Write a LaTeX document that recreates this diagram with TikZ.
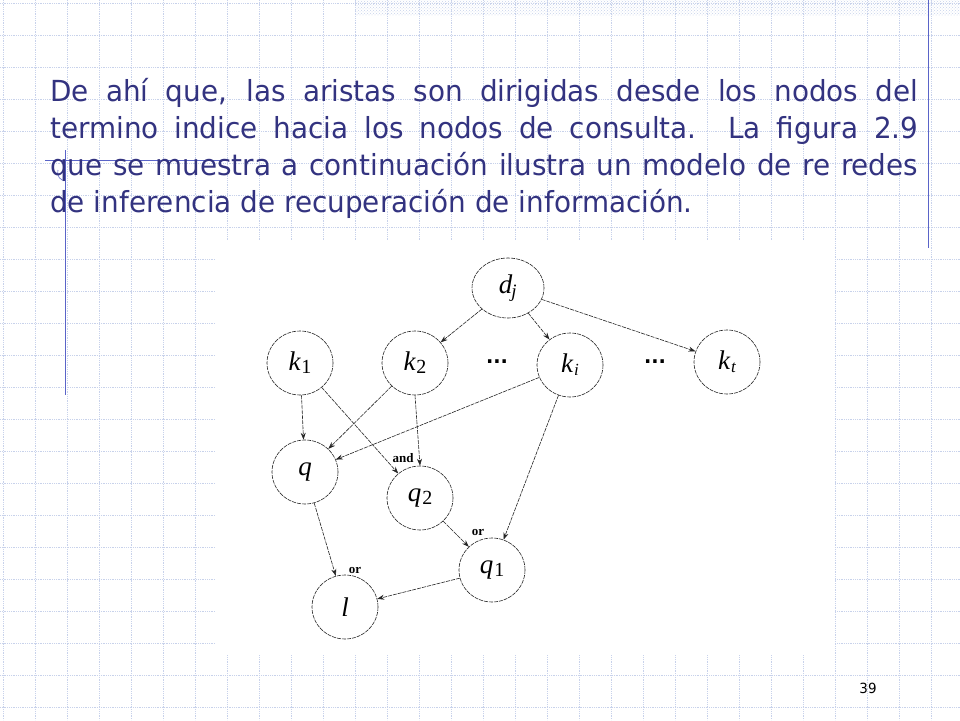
\documentclass[tikz,border=0pt]{standalone}
\usepackage{fontspec}
\setmainfont{DejaVu Sans}[FakeStretch=0.96]
\newfontfamily\serifm{Liberation Serif}
\usetikzlibrary{patterns,arrows.meta,shapes.geometric}
\definecolor{navy}{RGB}{51,51,128}
\definecolor{gridc}{RGB}{200,210,235}
\definecolor{linec}{RGB}{90,100,200}
\tikzset{
  nd/.style={draw=black!85, line width=0.6pt, dash pattern=on 4pt off 1pt, ellipse, minimum width=66pt, minimum height=64pt, inner sep=0pt, font=\serifm\itshape\fontsize{27}{27}\selectfont},
  ar/.style={draw=black!85, line width=0.6pt, dash pattern=on 4pt off 1pt, -{Stealth[length=7pt,width=5pt]}},
  lb/.style={font=\serifm\bfseries\fontsize{13}{13}\selectfont},
  txt/.style={anchor=base west, inner sep=0pt, text=navy, font=\fontsize{29}{29}\selectfont}
}
\begin{document}
\begin{tikzpicture}[x=1pt,y=-1pt]
\useasboundingbox (0,0) rectangle (960,720);
\fill[white] (0,0) rectangle (960,720);
\foreach \i in {0,...,30} {\draw[gridc, densely dotted, line width=0.8pt] (\i*32+3,0) -- (\i*32+3,720);}
\foreach \j in {0,...,23} {\draw[gridc, densely dotted, line width=0.8pt] (0,\j*32+3) -- (960,\j*32+3);}
\fill[white] (215,240) rectangle (835,655);
\fill[pattern=crosshatch dots, pattern color=gridc] (355,0) rectangle (960,15);
\draw[linec, line width=0.8pt] (928,0) -- (928,248);
\draw[linec, line width=0.8pt] (65,150) -- (65,395);
\draw[linec, line width=0.8pt] (45,160) -- (228,160);
\draw[linec, line width=0.6pt] (58,170) arc (200:90:8);
% text
\node[txt] (t1) at (50,101) {\makebox[868pt][s]{De ahí que, las aristas son dirigidas desde los nodos del}};
\node[txt] (t2) at (50,138) {\makebox[868pt][s]{termino indice hacia los nodos de consulta.\ \ La figura 2.9}};
\node[txt] (t3) at (50,175) {\makebox[868pt][s]{que se muestra a continuación ilustra un modelo de re redes}};
\node[txt] (t4) at (50,212) {de inferencia de recuperación de información.};
% diagram
\node[nd, minimum width=72pt, minimum height=60pt] (dj) at (508,288) {d\textsubscript{\kern-1pt\textit{j}}};
\node[nd] (k1) at (300,363) {k\kern1pt\raisebox{-3pt}{\upshape\fontsize{20}{20}\selectfont 1}};
\node[nd] (k2) at (415,363) {k\kern1pt\raisebox{-3pt}{\upshape\fontsize{20}{20}\selectfont 2}};
\node[nd] (ki) at (570,365) {k\kern1pt\raisebox{-3pt}{\fontsize{17}{17}\selectfont i}};
\node[nd] (kt) at (727,362) {k\kern1pt\raisebox{-3pt}{\fontsize{17}{17}\selectfont t}};
\node[nd] (q) at (305,472) {q};
\node[nd] (q2) at (420,498) {q\kern1pt\raisebox{-3pt}{\upshape\fontsize{20}{20}\selectfont 2}};
\node[nd] (q1) at (492,570) {q\kern1pt\raisebox{-3pt}{\upshape\fontsize{20}{20}\selectfont 1}};
\node[nd] (l) at (345,607) {l};
\node[font=\bfseries\fontsize{20}{20}\selectfont] (d1) at (497,362) {...};
\node[font=\bfseries\fontsize{20}{20}\selectfont] (d2) at (655,362) {...};
\draw[ar] (dj) -- (k2);
\draw[ar] (dj) -- (ki);
\draw[ar] (dj) -- (kt);
\draw[ar] (k1) -- (q);
\draw[ar] (k1) -- (q2);
\draw[ar] (k2) -- (q);
\draw[ar] (k2.south) -- (q2.north);
\draw[ar] (ki) -- (q);
\draw[ar] (ki) -- (q1);
\draw[ar] (q2) -- (q1);
\draw[ar] (q) -- (l);
\draw[ar] (q1) -- (l);
\node[lb] (a1) at (403,458) {and};
\node[lb] (o1) at (478,532) {or};
\node[lb] (o2) at (355,570) {or};
\node[font=\fontsize{14}{14}\selectfont] (pg) at (868,688) {39};
\end{tikzpicture}
\end{document}
